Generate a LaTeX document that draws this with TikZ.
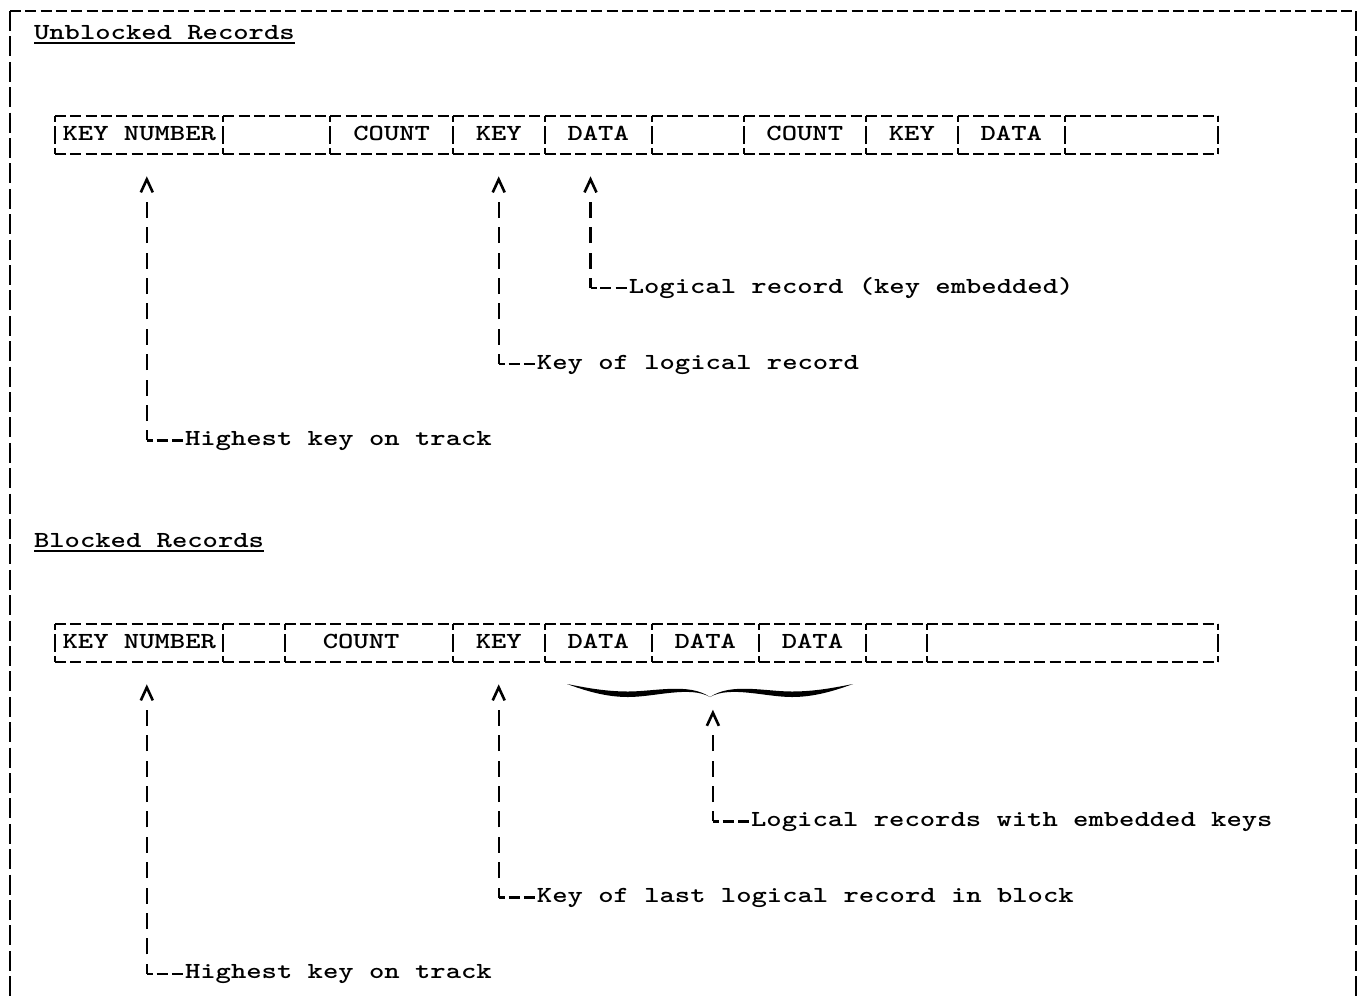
\documentclass[tikz,border=0pt]{standalone}
\usepackage{graphicx}
% widen the typewriter face so its pitch fits the character grid
\newcommand\typed[1]{\scalebox{1.27}[1]{#1}}
\tikzset{
  halfbrace/.pic={
    \fill (-143,-13) .. controls (-125,-6.5) and (-105,0) .. (-82,0)
          .. controls (-55,0) and (-20,-11.5) .. (0,0)
          .. controls (-21,-14.5) and (-55,-5.5) .. (-82,-5.5)
          .. controls (-105,-5.5) and (-125,-9.5) .. (-143,-13) -- cycle;
  }
}
\begin{document}
\begin{tikzpicture}[x=0.5pt,y=-0.5pt,
  ink/.style={line width=1pt},
  hyph/.style={ink, dash pattern=on 5.5pt off 2.15pt},
  framev/.style={ink, dash pattern=on 10pt off 2.7pt},
  divider/.style={ink, dash pattern=on 3pt off 2pt on 9pt off 2pt on 3pt off 40pt},
  vptr/.style={line width=1.15pt, dash pattern=on 8pt off 4.7pt, dash phase=3pt},
  hptr/.style={line width=1.15pt, dash pattern=on 3pt off 1.9pt on 5.5pt off 2.15pt on 5.5pt off 30pt},
  caret/.style={minimum width=6pt, minimum height=6.5pt, inner sep=0pt, outer sep=0pt},
  caretline/.style={line width=1.3pt, line join=miter},
  txt/.style={font=\fontsize{11.5pt}{13pt}\selectfont\ttfamily\bfseries, inner sep=0pt, outer sep=0pt, anchor=base west},
  uline/.style={line width=0.9pt}
]
\fill[white] (0,0) rectangle (1364,997);
\useasboundingbox (0,0) rectangle (1364,997);

% outer frame, open at the bottom
\draw[framev] (10,11) -- (10,1010);
\draw[hyph] (10,11) -- (1356,11);
\draw[framev] (1356,11) -- (1356,1010);

% ---------------- Unblocked records ----------------
\node[txt] (t1) at (34,39) {\typed{Unblocked Records}};
\draw[uline] ([yshift=-1.8pt]t1.base west) -- ([yshift=-1.8pt]t1.base east);

\draw[hyph] (55,116) -- (1217.8,116);
\draw[hyph] (55,154) -- (1217.8,154);
\foreach \x in {55,223.3,330.4,452.8,544.6,651.7,743.5,865.9,957.7,1064.8,1217.8}
  \draw[divider] (\x,116) -- (\x,154);

\node[txt] (ukn) at (62.65,140.6) {\typed{KEY NUMBER}};
\node[txt] (uc1) at (353.35,140.6) {\typed{COUNT}};
\node[txt] (uk1) at (475.75,140.6) {\typed{KEY}};
\node[txt] (ud1) at (567.55,140.6) {\typed{DATA}};
\node[txt] (uc2) at (766.45,140.6) {\typed{COUNT}};
\node[txt] (uk2) at (888.85,140.6) {\typed{KEY}};
\node[txt] (ud2) at (980.65,140.6) {\typed{DATA}};

\node[caret] (cu1) at (146.8,185.9) {};
\node[caret] (cu2) at (498.7,185.9) {};
\node[caret] (cu3) at (590.5,185.9) {};
\foreach \c in {cu1,cu2,cu3}
  \draw[caretline] (\c.south west) -- (\c.north) -- (\c.south east);

\node[txt] (lu3) at (628.75,293) {\typed{Logical record (key embedded)}};
\node[txt] (lu2) at (536.95,369.2) {\typed{Key of logical record}};
\node[txt] (lu1) at (185.05,445.4) {\typed{Highest key on track}};
\coordinate (ku3) at (590.5,288);
\coordinate (ku2) at (498.7,364.2);
\coordinate (ku1) at (146.8,440.4);
\foreach \i in {1,2,3}{
  \draw[vptr] (ku\i) -- ([yshift=-4.7pt]cu\i.south);
  \draw[hptr] (ku\i) -- ([xshift=-1.075pt]lu\i.west |- ku\i);
}

% ---------------- Blocked records ----------------
\node[txt] (t2) at (34,547) {\typed{Blocked Records}};
\draw[uline] ([yshift=-1.8pt]t2.base west) -- ([yshift=-1.8pt]t2.base east);

\draw[hyph] (55,624) -- (1217.8,624);
\draw[hyph] (55,662) -- (1217.8,662);
\foreach \x in {55,223.3,284.5,452.8,544.6,651.7,758.8,865.9,927.1,1217.8}
  \draw[divider] (\x,624) -- (\x,662);

\node[txt] (bkn) at (62.65,648.6) {\typed{KEY NUMBER}};
\node[txt] (bc1) at (322.75,648.6) {\typed{COUNT}};
\node[txt] (bk1) at (475.75,648.6) {\typed{KEY}};
\node[txt] (bd1) at (567.55,648.6) {\typed{DATA}};
\node[txt] (bd2) at (674.65,648.6) {\typed{DATA}};
\node[txt] (bd3) at (781.75,648.6) {\typed{DATA}};

% brace under the three data fields
\pic at (710,697) {halfbrace};
\pic[xscale=-1] at (710,697) {halfbrace};

\node[caret] (cb1) at (146.8,693.9) {};
\node[caret] (cb2) at (498.7,693.9) {};
\node[caret] (cb3) at (712.9,719.3) {};
\foreach \c in {cb1,cb2,cb3}
  \draw[caretline] (\c.south west) -- (\c.north) -- (\c.south east);

\node[txt] (lb3) at (751.15,826.4) {\typed{Logical records with embedded keys}};
\node[txt] (lb2) at (536.95,902.6) {\typed{Key of last logical record in block}};
\node[txt] (lb1) at (185.05,978.8) {\typed{Highest key on track}};
\coordinate (kb3) at (712.9,821.4);
\coordinate (kb2) at (498.7,897.6);
\coordinate (kb1) at (146.8,973.8);
\foreach \i in {1,2,3}{
  \draw[vptr] (kb\i) -- ([yshift=-4.7pt]cb\i.south);
  \draw[hptr] (kb\i) -- ([xshift=-1.075pt]lb\i.west |- kb\i);
}
\end{tikzpicture}
\end{document}
